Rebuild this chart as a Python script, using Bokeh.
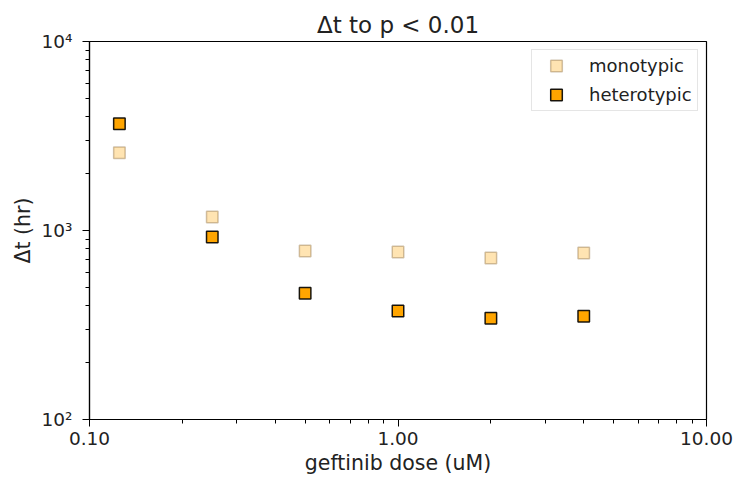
from bokeh.plotting import figure
from bokeh.models import FixedTicker, CustomJSTickFormatter, Legend
from bokeh.embed import file_html
from bokeh.resources import INLINE

# ---- data ----
dose = [0.125, 0.25, 0.5, 1.0, 2.0, 4.0]
monotypic = [2580, 1180, 780, 770, 715, 760]
heterotypic = [3670, 925, 466, 375, 343, 352]

x_ticks = [0.1, 1.0, 10.0]
y_ticks = [100, 1000, 10000]
x_minor = [m * d for d in [0.1, 1.0] for m in range(2, 10)]
y_minor = [m * d for d in [100, 1000] for m in range(2, 10)]

FONT = "DejaVu Sans"

p = figure(
    width=733, height=478,
    frame_width=617, frame_height=378,
    min_border_left=89, min_border_right=27, min_border_top=41, min_border_bottom=59,
    x_axis_type="log", y_axis_type="log",
    x_range=(0.1, 10), y_range=(100, 10000),
    output_backend="svg", toolbar_location=None,
    background_fill_color="white", border_fill_color="white",
    title="\u0394t to p < 0.01",
)
p.title.align = "center"
p.title.text_font = FONT
p.title.text_font_size = "23px"
p.title.text_font_style = "normal"
p.title.text_color = "#222222"
p.title.standoff = 8

p.grid.visible = False
p.outline_line_color = "black"
p.outline_line_width = 1.2

for ax in (p.xaxis[0], p.yaxis[0]):
    ax.axis_line_color = "black"
    ax.axis_line_width = 1.2
    ax.major_tick_line_color = "black"
    ax.minor_tick_line_color = "black"
    ax.major_tick_in = 0
    ax.major_tick_out = 7
    ax.minor_tick_in = 0
    ax.minor_tick_out = 4
    ax.major_label_text_font = FONT
    ax.major_label_text_font_size = "18.5px"
    ax.major_label_text_color = "#222222"
    ax.axis_label_text_font = FONT
    ax.axis_label_text_font_size = "20.5px"
    ax.axis_label_text_font_style = "normal"
    ax.axis_label_text_color = "#222222"

p.xaxis.ticker = FixedTicker(ticks=x_ticks, minor_ticks=x_minor)
p.yaxis.ticker = FixedTicker(ticks=y_ticks, minor_ticks=y_minor)
p.xaxis.formatter = CustomJSTickFormatter(code="return tick.toFixed(2);")
p.yaxis.formatter = CustomJSTickFormatter(code="""
const sup = {"0":"\u2070","1":"\u00b9","2":"\u00b2","3":"\u00b3","4":"\u2074","5":"\u2075","6":"\u2076","7":"\u2077","8":"\u2078","9":"\u2079","-":"\u207b"};
const e = Math.round(Math.log10(tick));
return "10" + String(e).split("").map(c => sup[c]).join("");
""")
p.xaxis.axis_label = "geftinib dose (uM)"
p.yaxis.axis_label = "\u0394t (hr)"
p.xaxis.major_label_standoff = 5
p.xaxis.axis_label_standoff = 3
p.yaxis.major_label_standoff = 10
p.yaxis.axis_label_standoff = 4

r_mono = p.scatter(dose, monotypic, marker="square", size=11.5,
                   fill_color="orange", fill_alpha=0.3,
                   line_color="#8a6a3a", line_alpha=0.4, line_width=1.5)
r_het = p.scatter(dose, heterotypic, marker="square", size=11.5,
                  fill_color="orange", fill_alpha=1.0,
                  line_color="black", line_alpha=0.9, line_width=1.5)

legend = Legend(items=[("monotypic", [r_mono]), ("heterotypic", [r_het])],
                location="top_right", margin=8,
                padding=1, spacing=-4,
                glyph_width=46, glyph_height=29,
                label_standoff=10, label_width=107,
                label_text_font=FONT, label_text_font_size="18px",
                label_text_color="#222222",
                border_line_color="#cccccc", border_line_width=1,
                background_fill_color="white", background_fill_alpha=0.8)
p.add_layout(legend, "center")

open("out.html", "w").write(file_html(p, INLINE))
